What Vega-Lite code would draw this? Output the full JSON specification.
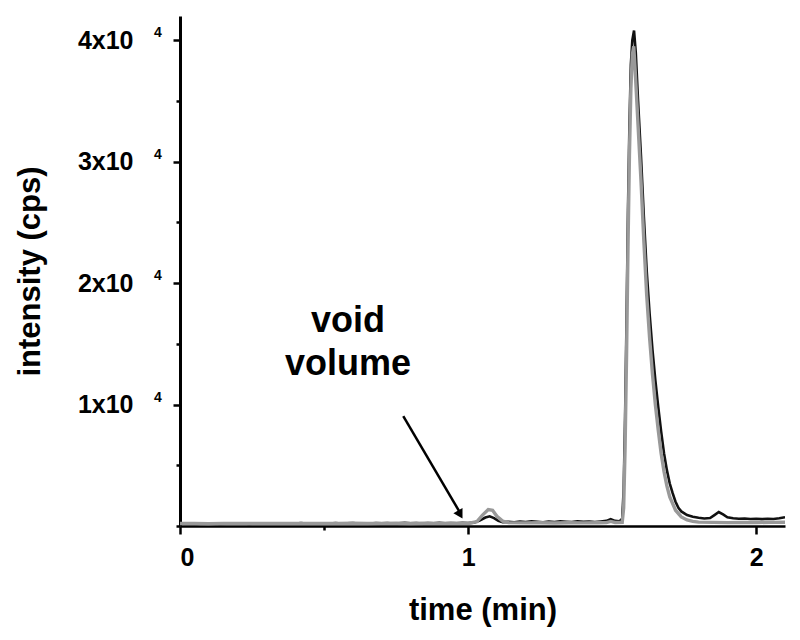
{
  "$schema": "https://vega.github.io/schema/vega-lite/v6.json",
  "width": 605,
  "height": 510,
  "autosize": {"type": "none"},
  "padding": {"left": 180, "top": 16, "right": 15, "bottom": 114},
  "background": "white",
  "config": {"view": {"stroke": null}, "font": "Liberation Sans"},
  "datasets": {
    "black": [
      {"t":0.00,"I":180},{"t":0.02,"I":160},{"t":0.04,"I":190},{"t":0.06,"I":170},{"t":0.08,"I":200},
      {"t":0.10,"I":180},{"t":0.12,"I":210},{"t":0.14,"I":170},{"t":0.16,"I":190},{"t":0.18,"I":220},
      {"t":0.20,"I":180},{"t":0.22,"I":200},{"t":0.24,"I":170},{"t":0.26,"I":210},{"t":0.28,"I":190},
      {"t":0.30,"I":230},{"t":0.32,"I":200},{"t":0.34,"I":180},{"t":0.36,"I":220},{"t":0.38,"I":190},
      {"t":0.40,"I":210},{"t":0.42,"I":240},{"t":0.44,"I":200},{"t":0.46,"I":220},{"t":0.48,"I":190},
      {"t":0.50,"I":230},{"t":0.52,"I":210},{"t":0.54,"I":240},{"t":0.56,"I":200},{"t":0.58,"I":220},
      {"t":0.60,"I":250},{"t":0.62,"I":210},{"t":0.64,"I":230},{"t":0.66,"I":200},{"t":0.68,"I":240},
      {"t":0.70,"I":220},{"t":0.72,"I":250},{"t":0.74,"I":210},{"t":0.76,"I":230},{"t":0.78,"I":260},
      {"t":0.80,"I":220},{"t":0.82,"I":240},{"t":0.84,"I":210},{"t":0.86,"I":250},{"t":0.88,"I":230},
      {"t":0.90,"I":260},{"t":0.92,"I":220},{"t":0.94,"I":250},{"t":0.96,"I":230},{"t":0.98,"I":260},
      {"t":1.00,"I":240},{"t":1.02,"I":280},{"t":1.04,"I":450},{"t":1.06,"I":700},{"t":1.075,"I":800},
      {"t":1.09,"I":650},{"t":1.105,"I":420},{"t":1.12,"I":320},{"t":1.14,"I":340},{"t":1.16,"I":300},
      {"t":1.18,"I":360},{"t":1.20,"I":320},{"t":1.22,"I":380},{"t":1.24,"I":340},{"t":1.26,"I":310},
      {"t":1.28,"I":370},{"t":1.30,"I":330},{"t":1.32,"I":390},{"t":1.34,"I":350},{"t":1.36,"I":320},
      {"t":1.38,"I":380},{"t":1.40,"I":340},{"t":1.42,"I":360},{"t":1.44,"I":330},{"t":1.46,"I":370},
      {"t":1.48,"I":420},{"t":1.495,"I":560},{"t":1.51,"I":420},{"t":1.525,"I":380},{"t":1.535,"I":600},
      {"t":1.54,"I":3000},{"t":1.545,"I":9000},{"t":1.55,"I":17000},{"t":1.555,"I":26000},{"t":1.56,"I":33000},
      {"t":1.565,"I":38000},{"t":1.57,"I":40000},{"t":1.576,"I":40800},{"t":1.582,"I":39000},{"t":1.59,"I":35000},
      {"t":1.60,"I":30500},{"t":1.61,"I":25500},{"t":1.62,"I":21000},{"t":1.63,"I":17500},{"t":1.64,"I":14500},
      {"t":1.65,"I":12000},{"t":1.66,"I":9800},{"t":1.67,"I":7800},{"t":1.68,"I":6000},{"t":1.69,"I":4600},
      {"t":1.70,"I":3500},{"t":1.71,"I":2700},{"t":1.72,"I":2000},{"t":1.73,"I":1500},{"t":1.74,"I":1200},
      {"t":1.76,"I":900},{"t":1.78,"I":760},{"t":1.80,"I":680},{"t":1.82,"I":620},{"t":1.84,"I":660},
      {"t":1.855,"I":900},{"t":1.87,"I":1150},{"t":1.885,"I":950},{"t":1.90,"I":720},{"t":1.92,"I":640},
      {"t":1.94,"I":600},{"t":1.96,"I":620},{"t":1.98,"I":580},{"t":2.00,"I":600},{"t":2.02,"I":570},
      {"t":2.04,"I":600},{"t":2.06,"I":580},{"t":2.08,"I":640},{"t":2.10,"I":720}
    ],
    "gray": [
      {"t":0.00,"I":200},{"t":0.05,"I":210},{"t":0.10,"I":190},{"t":0.15,"I":220},{"t":0.20,"I":200},
      {"t":0.25,"I":210},{"t":0.30,"I":200},{"t":0.35,"I":220},{"t":0.40,"I":210},{"t":0.45,"I":200},
      {"t":0.50,"I":220},{"t":0.55,"I":210},{"t":0.60,"I":230},{"t":0.65,"I":210},{"t":0.70,"I":220},
      {"t":0.75,"I":230},{"t":0.80,"I":210},{"t":0.85,"I":230},{"t":0.90,"I":220},{"t":0.95,"I":230},
      {"t":1.00,"I":220},{"t":1.03,"I":350},{"t":1.05,"I":900},{"t":1.07,"I":1350},{"t":1.085,"I":1300},
      {"t":1.10,"I":800},{"t":1.12,"I":400},{"t":1.14,"I":280},{"t":1.20,"I":260},{"t":1.25,"I":270},
      {"t":1.30,"I":250},{"t":1.35,"I":270},{"t":1.40,"I":260},{"t":1.45,"I":270},{"t":1.48,"I":280},
      {"t":1.495,"I":380},{"t":1.51,"I":290},{"t":1.535,"I":300},{"t":1.54,"I":1500},{"t":1.545,"I":6500},
      {"t":1.55,"I":14000},{"t":1.555,"I":23000},{"t":1.56,"I":30500},{"t":1.565,"I":36000},{"t":1.57,"I":38800},
      {"t":1.575,"I":39500},{"t":1.58,"I":37500},{"t":1.59,"I":33000},{"t":1.60,"I":28500},{"t":1.61,"I":23500},
      {"t":1.62,"I":19000},{"t":1.63,"I":15500},{"t":1.64,"I":12500},{"t":1.65,"I":10000},{"t":1.66,"I":7900},
      {"t":1.67,"I":6000},{"t":1.68,"I":4500},{"t":1.69,"I":3300},{"t":1.70,"I":2400},{"t":1.72,"I":1300},
      {"t":1.74,"I":750},{"t":1.76,"I":500},{"t":1.78,"I":380},{"t":1.80,"I":320},{"t":1.85,"I":300},
      {"t":1.90,"I":280},{"t":1.95,"I":300},{"t":2.00,"I":290},{"t":2.05,"I":300},{"t":2.10,"I":310}
    ],
    "exps": [{"v":10000},{"v":20000},{"v":30000},{"v":40000}],
    "note": [{"label":"void volume","x":0.583,"y":16000,"x1":0.775,"y1":9040,"x2":0.972,"y2":1100,"hx":0.970,"hy":1050}]
  },
  "resolve": {"axis": {"x": "independent", "y": "independent"}},
  "layer": [
    {
      "data": {"name": "black"},
      "mark": {"type": "line", "color": "#111111", "strokeWidth": 2.6, "clip": true},
      "encoding": {
        "x": {"field": "t", "type": "quantitative", "scale": {"domain": [0, 2.1], "nice": false},
          "axis": {"orient": "bottom", "title": "time (min)", "values": [0, 1, 2], "labelExpr": "format(datum.value, 'd')", "labelOverlap": false, "grid": false,
            "domainColor": "black", "domainWidth": 2.5, "tickColor": "black", "tickWidth": 2.5, "tickSize": 8,
            "labelFontSize": 25, "labelFontWeight": "bold", "labelColor": "black", "labelPadding": 11,
            "titleFontSize": 31, "titleFontWeight": "bold", "titleColor": "black", "titlePadding": 25}},
        "y": {"field": "I", "type": "quantitative", "scale": {"domain": [0, 42000], "nice": false},
          "axis": {"orient": "left", "title": "intensity (cps)", "values": [10000, 20000, 30000, 40000],
            "labelExpr": "datum.value / 10000 + 'x10'", "labelOverlap": false, "grid": false,
            "domainColor": "black", "domainWidth": 3, "tickColor": "black", "tickWidth": 2.5, "tickSize": 7,
            "labelFontSize": 25, "labelFontWeight": "bold", "labelColor": "black", "labelPadding": 40,
            "titleFontSize": 31, "titleFontWeight": "bold", "titleColor": "black", "titlePadding": 31}}
      }
    },
    {
      "data": {"name": "gray"},
      "mark": {"type": "line", "color": "#999999", "strokeWidth": 3.4, "clip": true},
      "encoding": {
        "x": {"field": "t", "type": "quantitative",
          "axis": {"orient": "bottom", "title": null, "values": [0.5], "labels": false, "domain": false, "grid": false,
            "tickColor": "black", "tickWidth": 2.5, "tickSize": 4}},
        "y": {"field": "I", "type": "quantitative",
          "axis": {"orient": "left", "title": null, "values": [0, 5000, 15000, 25000, 35000], "labels": false, "domain": false, "grid": false,
            "tickColor": "black", "tickWidth": 2.5, "tickSize": 4}}
      }
    },
    {
      "data": {"name": "exps"},
      "mark": {"type": "text", "text": "4", "fontSize": 14, "fontWeight": "bold", "color": "black", "align": "center", "baseline": "middle", "dx": -22, "dy": -7},
      "encoding": {
        "x": {"datum": 0, "type": "quantitative", "axis": null},
        "y": {"field": "v", "type": "quantitative", "axis": null}
      }
    },
    {
      "data": {"name": "note"},
      "mark": {"type": "text", "fontSize": 36, "fontWeight": "bold", "color": "black", "align": "center", "baseline": "alphabetic", "lineHeight": 43, "lineBreak": " "},
      "encoding": {
        "x": {"field": "x", "type": "quantitative", "axis": null},
        "y": {"field": "y", "type": "quantitative", "axis": null},
        "text": {"field": "label"}
      }
    },
    {
      "data": {"name": "note"},
      "mark": {"type": "rule", "color": "black", "strokeWidth": 2.5},
      "encoding": {
        "x": {"field": "x1", "type": "quantitative", "axis": null},
        "y": {"field": "y1", "type": "quantitative", "axis": null},
        "x2": {"field": "x2"},
        "y2": {"field": "y2"}
      }
    },
    {
      "data": {"name": "note"},
      "mark": {"type": "point", "shape": "triangle", "filled": true, "color": "black", "opacity": 1, "size": 110, "angle": 150},
      "encoding": {
        "x": {"field": "hx", "type": "quantitative", "axis": null},
        "y": {"field": "hy", "type": "quantitative", "axis": null}
      }
    }
  ]
}
